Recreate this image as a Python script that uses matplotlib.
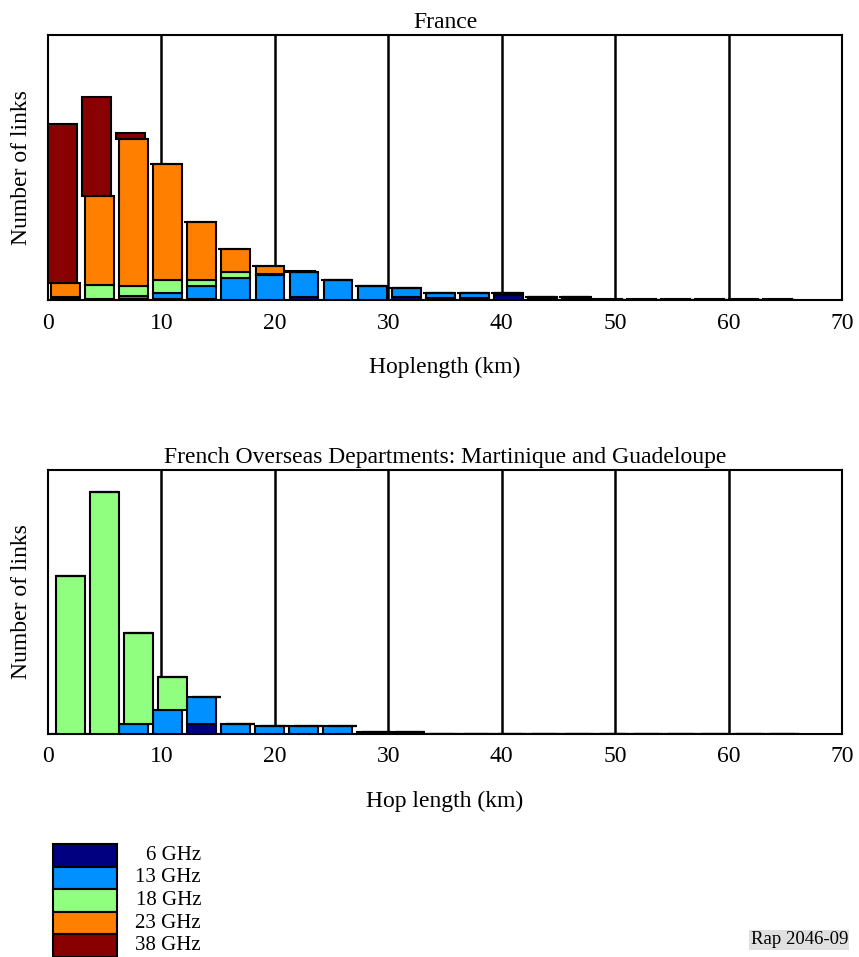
import matplotlib
matplotlib.use('Agg')
import matplotlib.pyplot as plt
from matplotlib.patches import Rectangle
import numpy as np

plt.rcParams['font.family'] = ['Liberation Serif', 'DejaVu Serif']

# bandes de frequence et couleurs
bands = ['6 GHz', '13 GHz', '18 GHz', '23 GHz', '38 GHz']
band_colors = ['#000080', '#0090ff', '#90ff80', '#ff8000', '#880000']

# classes de 3 km (0-3, 3-6, ... 63-66), nombre de liaisons sans echelle
bin_start = np.arange(0, 66, 3)

# France
fr_6 = [0.5, 0.5, 1, 1, 1, 0.5, 0.5, 3, 0.5, 0.5, 2.7, 2, 2, 5, 1, 1, 0.5, 0.3, 0.3, 0.3, 0.3, 0.3]
fr_13 = [1, 0.5, 3, 6, 13, 21.7, 25, 25, 20, 14, 9, 5.3, 5, 1.7, 2.3, 1.7, 0, 0, 0, 0, 0, 0]
fr_18 = [2, 14, 10, 13, 6, 5.7, 1, 0, 0, 0, 0, 0, 0, 0, 0, 0, 0, 0, 0, 0, 0, 0]
fr_23 = [14, 89, 147, 116, 58, 22.7, 8, 0.5, 0, 0, 0, 0, 0.5, 0, 0, 0.5, 0, 0, 0, 0, 0, 0]
fr_38 = [159, 99, 6, 0.5, 0.3, 0.3, 0, 0.3, 0, 0, 0, 0, 0, 0, 0, 0, 0.3, 0.3, 0.3, 0.3, 0.3, 0.3]

# Martinique et Guadeloupe
dom_6 = [0, 0, 0, 0, 10, 0, 0, 0, 0, 0.5, 0.5, 0, 0, 0, 0, 0, 0, 0, 0, 0, 0, 0]
dom_13 = [0, 0, 10, 24, 27, 10, 8, 8, 8, 1.5, 2, 0.5, 0, 0, 0, 0, 0, 0, 0, 0, 0, 0]
dom_18 = [158, 242, 91, 33, 0, 0, 0, 0, 0, 0, 0, 0, 0, 0, 0, 0, 0, 0, 0, 0, 0, 0]
dom_23 = [0] * 22
dom_38 = [0] * 22

x_ticks = [0, 10, 20, 30, 40, 50, 60, 70]

W, H = 859, 957
fig = plt.figure(figsize=(W / 100, H / 100), dpi=100)


def px_axes(left, top, right, bottom):
    return fig.add_axes([left / W, 1 - bottom / H, (right - left) / W, (bottom - top) / H])


def draw_panel(ax, series, offsets, title, xlabel, ymax):
    bottom = np.zeros(len(bin_start))
    for vals, col, off in zip(series, band_colors, offsets):
        vals = np.array(vals, dtype=float)
        ax.bar(bin_start + 1.5 + off, vals, width=2.55, bottom=bottom,
               color=col, edgecolor='black', linewidth=1.5, zorder=3)
        bottom = bottom + vals
    for g in x_ticks[1:-1]:
        ax.axvline(g, color='black', linewidth=1.8, zorder=1)
    ax.set_xlim(0, 70)
    ax.set_ylim(0, ymax)
    ax.set_xticks(x_ticks)
    ax.set_yticks([])
    ax.tick_params(axis='x', length=0, pad=9, labelsize=17)
    for s in ax.spines.values():
        s.set_linewidth(1.5)
    ax.set_title(title, fontsize=17, pad=5)
    ax.set_xlabel(xlabel, fontsize=17, labelpad=17)
    ax.set_ylabel('Number of links', fontsize=17)
    ax.yaxis.set_label_coords(-0.02, 0.5)


ax1 = px_axes(48, 35, 842, 300)
draw_panel(ax1, [fr_6, fr_13, fr_18, fr_23, fr_38],
           [0.07, 0.07, 0.07, 0.07, -0.2], 'France', 'Hoplength (km)', 265)

ax2 = px_axes(48, 470, 842, 734)
draw_panel(ax2, [dom_6, dom_13, dom_18, dom_23, dom_38],
           [0.05, 0.05, 0.45, 0.45, 0.45],
           'French Overseas Departments: Martinique and Guadeloupe',
           'Hop length (km)', 264)

# legende dessinee a la main
row_h = 22.6
for i, (lab, col) in enumerate(zip(bands, band_colors)):
    y0 = 844 + i * row_h
    fig.add_artist(Rectangle((53 / W, 1 - (y0 + row_h) / H), 64 / W, row_h / H,
                             facecolor=col, edgecolor='black', linewidth=1.5,
                             transform=fig.transFigure))
    fig.text(201 / W, 1 - (y0 + row_h / 2) / H, lab, ha='right', va='center', fontsize=15)

fig.text(848 / W, 1 - 940 / H, 'Rap 2046-09', ha='right', va='center', fontsize=13.5,
         bbox=dict(facecolor='#e0e0e0', edgecolor='none', pad=1))

fig.savefig('out.png', dpi=100)
